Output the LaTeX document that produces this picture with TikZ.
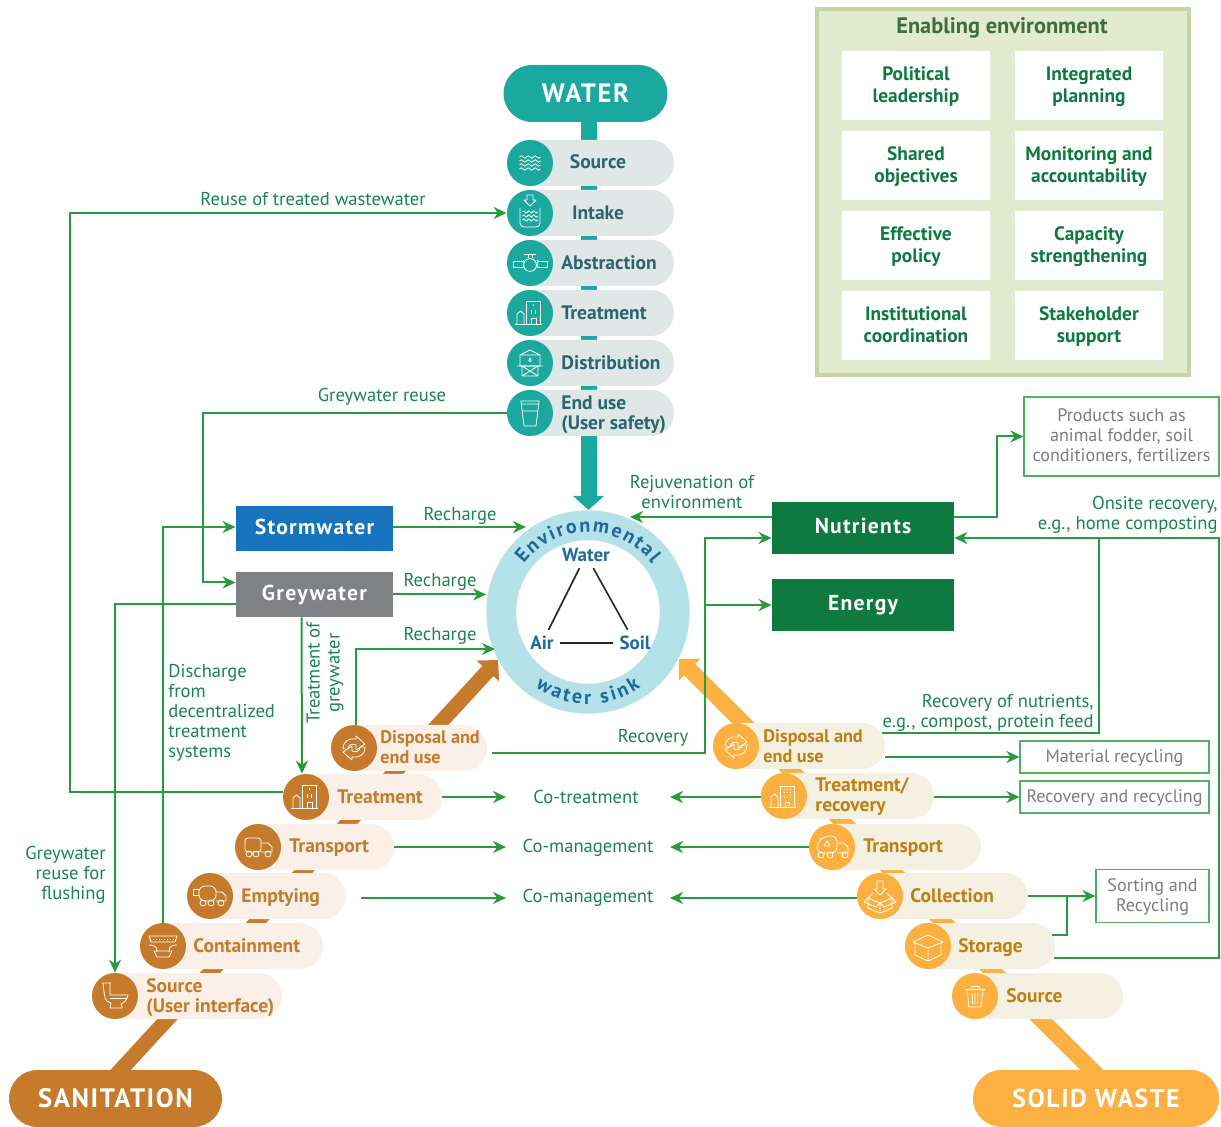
\documentclass[tikz,border=0pt]{standalone}
\usepackage{fontspec}
\setmainfont{PT Sans}
\newfontfamily\spaced[LetterSpace=6]{PT Sans}
\usetikzlibrary{arrows.meta,shapes.misc,decorations.text}
\definecolor{watercol}{HTML}{1BA89E}
\definecolor{waterpill}{HTML}{DFE8E6}
\definecolor{watertext}{HTML}{2A6570}
\definecolor{sancol}{HTML}{C67B2C}
\definecolor{sanpill}{HTML}{FAF0E8}
\definecolor{wastecol}{HTML}{FBB040}
\definecolor{wastepill}{HTML}{F4F1E2}
\definecolor{wastetext}{HTML}{C07F10}
\definecolor{flowgreen}{HTML}{2A9A3E}
\definecolor{labgreen}{HTML}{1A8450}
\definecolor{darkgreen}{HTML}{0F7A3F}
\definecolor{titlegreen}{HTML}{3D6F3A}
\definecolor{envfill}{HTML}{E2EACF}
\definecolor{envline}{HTML}{C4D6A6}
\definecolor{ringcol}{HTML}{B5E1E8}
\definecolor{ringblue}{HTML}{1C6AA0}
\definecolor{stormblue}{HTML}{1674BC}
\definecolor{greygrey}{HTML}{808184}
\definecolor{boxtext}{HTML}{7A7C7E}
\newcommand{\wavy}[3]{(#1,#2) sin ++(#3,-1.2) cos ++(#3,1.2) sin ++(#3,1.2) cos ++(#3,-1.2) sin ++(#3,-1.2) cos ++(#3,1.2) sin ++(#3,1.2) cos ++(#3,-1.2) sin ++(#3,-1.2) cos ++(#3,1.2) sin ++(#3,1.2) cos ++(#3,-1.2)}
\tikzset{
icon/.style={draw=white,line width=.4pt,line join=round},
pics/wavesicon/.style={code={
\draw[icon] \wavy{-10.5}{-6}{1.75} \wavy{-10.5}{-2}{1.75} \wavy{-10.5}{2}{1.75} \wavy{-10.5}{6}{1.75};
}},
pics/intakeicon/.style={code={
\draw[icon] (-3,-18) -- (3,-18) -- (3,-13) -- (6,-13) -- (0,-7) -- (-6,-13) -- (-3,-13) -- cycle;
\draw[icon,rounded corners=2pt] (-10,-5) -- (-10,14) -- (10,14) -- (10,-5);
\draw[icon] \wavy{-7.5}{-1}{1.25} \wavy{-7.5}{3}{1.25} \wavy{-7.5}{7}{1.25};
}},
pics/valveicon/.style={code={
\draw[icon] (-17,-2) rectangle (-7,4) (7,-2) rectangle (17,4) (-7,-3) -- (-7,5) (7,-3) -- (7,5);
\draw[icon] (0,2) circle (3.2pt);
\draw[icon] (-2,-5) -- (-2,-9) (2,-5) -- (2,-9) (-6,-9) -- (6,-9);
}},
pics/planticon/.style={code={
\draw[icon] (-15,11) -- (12,11) (-4,11) -- (-4,-12) -- (10,-12) -- (10,11);
\draw[icon] (-13,11) -- (-13,1) -- (-9.5,-2) -- (-6,1) -- (-6,11);
\draw[icon] (1,11) -- (1,5) -- (6,5) -- (6,11) (1,-3) -- (1,1) (5,-3) -- (5,1) (3,-9) -- (3,-7);
}},
pics/gridplanticon/.style={code={
\draw[icon] (-15,11) -- (12,11) (-4,11) -- (-4,-10) -- (10,-10) -- (10,11);
\draw[icon] (-13,11) -- (-13,1) -- (-9.5,-2) -- (-6,1) -- (-6,11);
\draw[icon] (1,11) -- (1,6) -- (5,6) -- (5,11);
\draw[icon,densely dotted] (0,-7) -- (0,3) (3,-7) -- (3,3) (6,-7) -- (6,3);
}},
pics/towericon/.style={code={
\draw[icon] (-10,-8) rectangle (10,3) (-10,-8) -- (0,-13) -- (10,-8);
\draw[icon] (-13,3) -- (13,3) (-8,3) -- (-8,13) -- (8,13) -- (8,3) (-8,3) -- (8,13) (8,3) -- (-8,13);
\draw[icon] (0,-5) -- (1.2,-2.5) -- (0,-1.5) -- (-1.2,-2.5) -- cycle;
}},
pics/glassicon/.style={code={
\draw[icon] (-9,-12) -- (9,-12) -- (6,13) -- (-6,13) -- cycle (-8,-2) -- (8,-2) (-8.5,-9) -- (8.5,-9);
}},
pics/recycleicon/.style={code={
\draw[icon] (-11,1) .. controls (-11,-7) and (-5,-10) .. (2,-9) -- (2,-12) -- (11,-4) -- (2,2) -- (2,-3) .. controls (-2,-5) and (-6,-3) .. (-6,1) -- cycle;
\draw[icon] (11,-1) .. controls (11,7) and (5,10) .. (-2,9) -- (-2,12) -- (-11,4) -- (-2,-2) -- (-2,3) .. controls (2,5) and (6,3) .. (6,-1) -- cycle;
}},
pics/truckicon/.style={code={
\draw[icon,rounded corners=1.5pt] (3,5) -- (-13,5) -- (-13,-9) -- (3,-9) -- cycle;
\draw[icon] (3,-4) -- (10,-4) -- (14,0) -- (14,5) -- (3,5);
\draw[icon] (-9,7) circle (1.5pt) (-2,7) circle (1.5pt) (10,7) circle (1.5pt);
}},
pics/tankericon/.style={code={
\draw[icon,rounded corners=3pt] (6,5) -- (-11,5) -- (-11,-10) -- (6,-10) -- cycle;
\draw[icon] (-11,-7) -- (-17,-7) -- (-17,-1) -- (-11,-1);
\draw[icon] (6,-4) -- (12,-4) -- (16,0) -- (16,5) -- (6,5);
\draw[icon] (-7,7) circle (1.5pt) (1,7) circle (1.5pt) (11,7) circle (1.5pt);
}},
pics/garbageicon/.style={code={
\draw[icon,rounded corners=3pt] (5,6) -- (-15,6) -- (-15,-4) -- (-8,-11) -- (5,-11) -- cycle;
\draw[icon] (-5,-6) -- (-2,-1) -- (-8,-1) -- cycle;
\draw[icon] (5,-4) -- (12,-4) -- (16,0) -- (16,6) -- (5,6);
\draw[icon] (-11,8) circle (1.5pt) (-2,8) circle (1.5pt) (13,8) circle (1.5pt);
}},
pics/piticon/.style={code={
\draw[icon] (-14,-10) -- (14,-10) -- (12,-4) -- (-12,-4) -- cycle;
\draw[icon] (-14,-1) .. controls (-6,-1) and (-6,3) .. (-6,6) (14,-1) .. controls (6,-1) and (6,3) .. (6,6);
\draw[icon] (-9,5) -- (-6,11) -- (6,11) -- (9,5) -- cycle;
\draw[icon,densely dotted] (-10,-6.5) -- (10,-6.5);
}},
pics/toileticon/.style={code={
\draw[icon] (-13,-13) -- (-4,-13) (-12,-13) -- (-5,-13) -- (-5,-1) -- (13,-1) .. controls (12,5) and (8,7) .. (6,8) -- (7,12) -- (-5,12) -- (-4,7) .. controls (-10,5) .. (-12,-13);
\draw[icon] (-5,2) -- (12,2);
}},
pics/boxinicon/.style={code={
\draw[icon] (-3,-15) -- (3,-15) -- (3,-7) -- (6,-7) -- (0,-1) -- (-6,-7) -- (-3,-7) -- cycle;
\draw[icon] (-12,2) -- (0,7) -- (12,2) -- (12,12) -- (0,17) -- (-12,12) -- cycle (0,7) -- (0,17);
\draw[icon] (-12,2) -- (-7,-3) (12,2) -- (7,-3) (-12,2) -- (-16,6) -- (-4,11) -- (0,7) (12,2) -- (16,6) -- (4,11) -- (0,7);
}},
pics/boxicon/.style={code={
\draw[icon] (-15,-4) -- (0,-11) -- (15,-4) -- (0,2) -- cycle;
\draw[icon] (-13,-3) -- (-13,9) -- (0,15) -- (13,9) -- (13,-3) (0,2) -- (0,15);
}},
pics/binicon/.style={code={
\draw[icon] (-10,-7) -- (10,-7) (-4,-7) -- (-4,-10) -- (4,-10) -- (4,-7);
\draw[icon] (-8,-7) -- (-6,11) -- (6,11) -- (8,-7);
\draw[icon] (-3,-3) -- (-2.5,8) (0,-3) -- (0,8) (3,-3) -- (2.5,8);
}}
}
\begin{document}
\begin{tikzpicture}[x=0.5pt,y=-0.5pt]
\tikzstyle{pill}=[shape=rounded rectangle,minimum height=23pt,inner sep=0pt];
\tikzstyle{wpill}=[pill,fill=waterpill,minimum width=83.5pt];
\tikzstyle{spill}=[pill,fill=sanpill];
\tikzstyle{gpill}=[pill,fill=wastepill];
\tikzstyle{disc}=[shape=circle,minimum size=23pt,inner sep=0pt];
\tikzstyle{wdisc}=[disc,fill=watercol];
\tikzstyle{sdisc}=[disc,fill=sancol];
\tikzstyle{gdisc}=[disc,fill=wastecol];
\tikzstyle{bold}=[inner sep=0pt,font=\bfseries\fontsize{9.75}{10}\selectfont,align=left];
\tikzstyle{tight}=[font=\bfseries\fontsize{9.1}{10}\selectfont];
\tikzstyle{wtext}=[bold,text=watertext];
\tikzstyle{stext}=[bold,text=sancol,anchor=west];
\tikzstyle{gtext}=[bold,text=wastetext,anchor=west];
\tikzstyle{lab}=[inner sep=0pt,text=labgreen,font=\fontsize{9.3}{10}\selectfont,align=center];
\tikzstyle{header}=[shape=rounded rectangle,rounded rectangle arc length=180,minimum height=28.5pt,inner sep=0pt,text=white,font=\bfseries\spaced\fontsize{13.3}{14}\selectfont];
\tikzstyle{block}=[shape=rectangle,inner sep=0pt,text=white,text height=8pt,text depth=2pt,font=\bfseries\spaced\fontsize{10.8}{11}\selectfont];
\tikzstyle{envbox}=[shape=rectangle,fill=white,minimum width=74pt,minimum height=34.5pt,inner sep=0pt,align=center,text depth=1pt,text=darkgreen,font=\bfseries\fontsize{9.7}{11}\selectfont];
\tikzstyle{outbox}=[shape=rectangle,draw=flowgreen!80,line width=.6pt,inner sep=0pt,align=center,text=boxtext,font=\fontsize{9.05}{10}\selectfont];
\tikzstyle{oneline}=[text height=8.5pt,text depth=2.5pt];
\tikzstyle{wire}=[draw=flowgreen,line width=1pt];
\tikzstyle{flow}=[wire,-{Stealth[length=6.5pt,width=6pt]}];
\useasboundingbox (0,0) rectangle (1221,1127);
% enabling environment
\draw[fill=envfill,draw=envline,line width=2pt] (816.5,9.5) rectangle (1188.5,375.5);
\node[inner sep=0pt,text=titlegreen,font=\bfseries\fontsize{11.2}{12}\selectfont] (envtitle) at (1002,28) {Enabling environment};
\node[envbox] (political) at (916,85.5) {Political\\leadership};
\node[envbox] (integrated) at (1089,85.5) {Integrated\\planning};
\node[envbox] (shared) at (916,165.5) {Shared\\objectives};
\node[envbox] (monitoring) at (1089,165.5) {Monitoring and\\accountability};
\node[envbox] (effective) at (916,245.5) {Effective\\policy};
\node[envbox] (capacity) at (1089,245.5) {Capacity\\strengthening};
\node[envbox] (institutional) at (916,325.5) {Institutional\\coordination};
\node[envbox] (stakeholder) at (1089,325.5) {Stakeholder\\support};
% the three bands
\node[header,fill=watercol,minimum width=82pt] (water) at (585.5,93.5) {WATER};
\node[header,fill=sancol,minimum width=106.5pt] (sanit) at (115.5,1098.5) {SANITATION};
\node[header,fill=wastecol,minimum width=123pt,font=\bfseries\spaced\fontsize{12.9}{14}\selectfont] (waste) at (1096,1098.5) {SOLID WASTE};
\coordinate (wstem) at (588.5,122);
\coordinate (wtip) at (588.5,510);
\coordinate (sstem) at (116,1075);
\coordinate (stip) at (498,660);
\coordinate (gstem) at (1097,1075);
\coordinate (gtip) at (679,659);
\draw[line width=8pt,draw=watercol,-{Triangle[length=7pt,width=15pt]}] (wstem) -- (wtip);
\draw[line width=7.5pt,draw=sancol,-{Triangle[length=7.5pt,width=15pt]}] (sstem) -- (stip);
\draw[line width=8pt,draw=wastecol,-{Triangle[length=7.5pt,width=15pt]}] (gstem) -- (gtip);
% water chain
\node[wpill] (wsrc) at (590.5,163) {};
\node[wpill] (wint) at (590.5,213) {};
\node[wpill] (wabs) at (590.5,263) {};
\node[wpill] (wtrt) at (590.5,313) {};
\node[wpill] (wdis) at (590.5,363) {};
\node[wpill] (wend) at (590.5,413) {};
\node[wdisc] (wsrcc) at (530,163) {};
\node[wdisc] (wintc) at (530,213) {};
\node[wdisc] (wabsc) at (530,263) {};
\node[wdisc] (wtrtc) at (530,313) {};
\node[wdisc] (wdisc1) at (530,363) {};
\node[wdisc] (wendc) at (530,413) {};
\pic at (wsrcc) {wavesicon};
\pic at (wintc) {intakeicon};
\pic at (wabsc) {valveicon};
\pic at (wtrtc) {planticon};
\pic at (wdisc1) {towericon};
\pic at (wendc) {glassicon};
\node[wtext] (wsrct) at (598,162) {Source};
\node[wtext] (wintt) at (598,213) {Intake};
\node[wtext] (wabst) at (609,263) {Abstraction};
\node[wtext] (wtrtt) at (604,313) {Treatment};
\node[wtext] (wdist) at (611,363) {Distribution};
\node[wtext,anchor=west] (wendt) at (561,415) {End use\\(User safety)};
% sanitation chain
\node[spill,minimum width=78pt] (sdsp) at (409,748) {};
\node[spill,minimum width=79.5pt] (strt) at (362.5,797) {};
\node[spill,minimum width=79.5pt] (strn) at (314.5,847) {};
\node[spill,minimum width=79.5pt] (semp) at (266.5,896) {};
\node[spill,minimum width=91.5pt] (scnt) at (231.5,946) {};
\node[spill,minimum width=95pt] (ssrc) at (187,996) {};
\node[sdisc] (sdspc) at (354,748) {};
\node[sdisc] (strtc) at (306,797) {};
\node[sdisc] (strnc) at (258,847) {};
\node[sdisc] (sempc) at (210,896) {};
\node[sdisc] (scntc) at (163,946) {};
\node[sdisc] (ssrcc) at (115,996) {};
\pic at (sdspc) {recycleicon};
\pic at (strtc) {planticon};
\pic at (strnc) {truckicon};
\pic at (sempc) {tankericon};
\pic at (scntc) {piticon};
\pic at (ssrcc) {toileticon};
\node[stext,tight] (sdspt) at (380,747) {Disposal and\\end use};
\node[stext] (strtt) at (337,797) {Treatment};
\node[stext] (strnt) at (289,848) {Transport};
\node[stext] (sempt) at (241,898) {Emptying};
\node[stext] (scntt) at (193,946) {Containment};
\node[stext] (ssrct) at (146,998) {Source\\(User interface)};
% solid waste chain
\node[gpill,minimum width=86pt] (gdsp) at (799,746) {};
\node[gpill,minimum width=86.5pt] (gtrt) at (847.5,796) {};
\node[gpill,minimum width=86pt] (gtrn) at (895,847) {};
\node[gpill,minimum width=85.5pt] (gcol) at (942.5,896) {};
\node[gpill,minimum width=75pt] (gsto) at (980,946) {};
\node[gpill,minimum width=85.5pt] (gsrc) at (1037.5,996) {};
\node[gdisc] (gdspc) at (736,746) {};
\node[gdisc] (gtrtc) at (784,796) {};
\node[gdisc] (gtrnc) at (832,847) {};
\node[gdisc] (gcolc) at (880,896) {};
\node[gdisc] (gstoc) at (928,946) {};
\node[gdisc] (gsrcc) at (975,996) {};
\pic at (gdspc) {recycleicon};
\pic at (gtrtc) {gridplanticon};
\pic at (gtrnc) {garbageicon};
\pic at (gcolc) {boxinicon};
\pic at (gstoc) {boxicon};
\pic at (gsrcc) {binicon};
\node[gtext,tight] (gdspt) at (763,746) {Disposal and\\end use};
\node[gtext] (gtrtt) at (815,797) {Treatment/\\recovery};
\node[gtext] (gtrnt) at (863,848) {Transport};
\node[gtext] (gcolt) at (910,896) {Collection};
\node[gtext] (gstot) at (958,948) {Storage};
\node[gtext] (gsrct) at (1006,996) {Source};
% ring
\node[shape=circle,fill=ringcol,minimum size=101.7pt,inner sep=0pt] (ring) at (588,612) {};
\node[shape=circle,fill=white,minimum size=71.7pt,inner sep=0pt] (ringin) at (588,612) {};
\path[decorate,decoration={text along path,text align={fit to path},text={|\bfseries\fontsize{10}{10}\selectfont\color{ringblue}|Environmental}}] (ring.center) ++(-63.9,-48.1) arc[start angle=143,end angle=37,radius=40pt];
\path[decorate,decoration={text along path,text align={fit to path},text={|\bfseries\fontsize{10}{10}\selectfont\color{ringblue}|water sink}}] (ring.center) ++(-52.8,75.4) arc[start angle=235,end angle=305,radius=46pt];
\tikzstyle{tri}=[inner sep=3pt,text=ringblue,font=\fontsize{9.5}{10}\selectfont\bfseries];
\node[tri] (wat) at (586,555) {Water};
\node[tri] (air) at (542,643) {Air};
\node[tri] (soil) at (635,643) {Soil};
\draw[line width=.8pt,draw=black!85] (wat) -- (air) (wat) -- (soil) (air) -- (soil);
% blocks
\node[block,fill=stormblue,minimum width=78.5pt,minimum height=22.5pt] (storm) at (314.5,528.5) {Stormwater};
\node[block,fill=greygrey,minimum width=78.5pt,minimum height=22.5pt] (grey) at (314.5,594.5) {Greywater};
\node[block,fill=darkgreen,minimum width=91pt,minimum height=26pt] (nutr) at (863,528) {Nutrients};
\node[block,fill=darkgreen,minimum width=91pt,minimum height=26pt] (energy) at (863,605) {Energy};
\node[outbox,minimum width=97.5pt,minimum height=39.5pt] (prod) at (1121.5,436.5) {Products such as\\animal fodder, soil\\conditioners, fertilizers};
\node[outbox,oneline,minimum width=94.5pt,minimum height=16pt] (matr) at (1114.5,757) {Material recycling};
\node[outbox,oneline,minimum width=94.5pt,minimum height=16pt] (recr) at (1114.5,797) {Recovery and recycling};
\node[outbox,minimum width=56.5pt,minimum height=26.5pt,text depth=1pt] (sort) at (1152.5,896) {Sorting and\\Recycling};
% co-nodes
\node[lab] (cotrt) at (586,797) {Co-treatment};
\node[lab] (comgt) at (588,848) {Co-management};
\node[lab] (comge) at (588,898) {Co-management};
% free ends
\coordinate (lbus) at (70,500);
\coordinate (gbus) at (203,500);
\coordinate (stormend) at (526,527);
\coordinate (greyend) at (486,594.5);
\coordinate (dspup) at (356,725);
\coordinate (dspend) at (495,649);
\coordinate (sdspr) at (492,753);
\coordinate (rbus) at (705,605);
\coordinate (rejend) at (630,517);
\coordinate (pbus) at (997,470);
\coordinate (gstotop) at (1052,935);
\coordinate (gstobot) at (1054,958);
\coordinate (rightbus) at (1219,700);
\coordinate (gdsptop) at (882,733);
\coordinate (nutjoin) at (1099,538);
\coordinate (sortjoin) at (1067,896);
\coordinate (sempr) at (361,898);
\coordinate (trtleft) at (506,797);
\coordinate (trnleft) at (506,847);
\coordinate (empleft) at (506,898);
\coordinate (trtright) at (670,797);
\coordinate (trnright) at (670,847);
\coordinate (empright) at (670,898);
% connectors
\draw[flow] (strtc.167) -| (lbus) |- (wintc.west);
\draw[flow] (wendc.west) -| (gbus) |- ([yshift=6pt]grey.west);
\draw[flow] ([yshift=-5pt]grey.west) -| (ssrcc.north);
\draw[flow] (scntc.north) |- ([yshift=.75pt]storm.west);
\draw[flow] ([xshift=-6.5pt]grey.south) -- ([xshift=-2pt]strtc.north);
\draw[flow] ([yshift=.75pt]storm.east) -- (stormend);
\draw[flow] (grey.east) -- (greyend);
\draw[flow] (dspup) |- (dspend);
\draw[wire] (sdspr) -| (rbus);
\draw[flow] (rbus) |- ([yshift=-5pt]nutr.west);
\draw[flow] (rbus) -- (energy.west);
\draw[flow] ([yshift=5.5pt]nutr.west) -- (rejend);
\draw[flow] ([yshift=5.5pt]nutr.east) -| (pbus) |- (prod.west);
\draw[flow] (gstobot) -| (rightbus) |- ([yshift=-5pt]nutr.east);
\draw[wire] (gdsptop) -| (nutjoin);
\draw[flow] ([yshift=-5.5pt]gdsp.east) -- (matr.west);
\draw[flow] ([yshift=-.5pt]gtrt.east) -- (recr.west);
\draw[flow] (gcol.east) -- (sort.west);
\draw[wire] (gstotop) -| (sortjoin);
\draw[flow] (strt.east) -- (trtleft);
\draw[flow] (strn.east) -- (trnleft);
\draw[flow] (sempr) -- (empleft);
\draw[flow] ([yshift=-.5pt]gtrtc.west) -- (trtright);
\draw[flow] (gtrnc.west) -- (trnright);
\draw[flow] ([yshift=-1pt]gcolc.west) -- (empright);
% labels
\node[lab] (l1) at (313,199) {Reuse of treated wastewater};
\node[lab] (l2) at (382,397) {Greywater reuse};
\node[lab] (l3) at (460,516) {Recharge};
\node[lab] (l4) at (440,582) {Recharge};
\node[lab] (l5) at (440,636) {Recharge};
\node[lab] (l6) at (692,492.5) {Rejuvenation of\\environment};
\node[lab,align=right,anchor=east] (l7) at (1218,515) {Onsite recovery,\\e.g., home composting};
\node[lab,align=right,anchor=east] (l8) at (1094,713) {Recovery of nutrients,\\e.g., compost, protein feed};
\node[lab] (l9) at (653,738) {Recovery};
\node[lab,align=left,anchor=west] (l10) at (168,713) {Discharge\\from\\decentralized\\treatment\\systems};
\node[lab,align=right,anchor=east] (l11) at (106,875) {Greywater\\reuse for\\flushing};
\node[lab,rotate=90] (l12) at (325,673) {Treatment of\\greywater};
\end{tikzpicture}
\end{document}
